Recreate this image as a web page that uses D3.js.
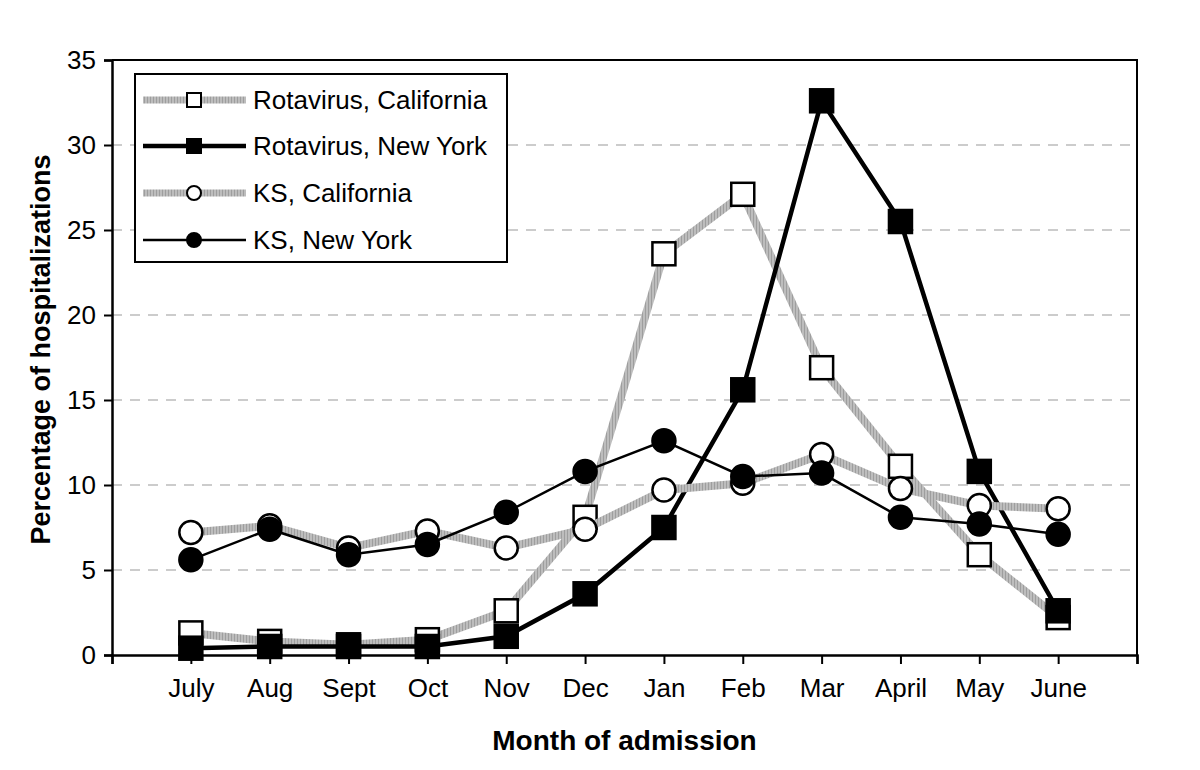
<!DOCTYPE html>
<html><head><meta charset="utf-8">
<script src="https://cdn.jsdelivr.net/npm/d3@7"></script>
<style>body{margin:0;background:#fff}svg{display:block}text{font-family:"Liberation Sans",Arial,sans-serif}</style>
</head><body><svg id="c" width="1200" height="770"></svg>
<script>
const months = ["July","Aug","Sept","Oct","Nov","Dec","Jan","Feb","Mar","April","May","June"];
const yTicks = [0,5,10,15,20,25,30,35];
const rotaCA = [1.3,0.8,0.6,0.9,2.6,8.1,23.6,27.1,16.9,11.1,5.9,2.2];
const rotaNY = [0.4,0.5,0.5,0.5,1.1,3.6,7.5,15.6,32.6,25.5,10.8,2.6];
const ksCA   = [7.2,7.6,6.3,7.3,6.3,7.4,9.7,10.1,11.8,9.8,8.8,8.6];
const ksNY   = [5.6,7.4,5.9,6.5,8.4,10.8,12.6,10.5,10.7,8.1,7.7,7.1];
const seriesNames = ["Rotavirus, California","Rotavirus, New York","KS, California","KS, New York"];

const svg = d3.select("#c");
const L=112,R=1137,T=60,B=655;
const x = d3.scaleLinear().domain([0,13]).range([L,R]);
const y = d3.scaleLinear().domain([0,35]).range([B,T]);

// hatched gray texture
const pat = svg.append("defs").append("pattern").attr("id","hatch")
  .attr("patternUnits","userSpaceOnUse").attr("width",3).attr("height",3);
pat.append("rect").attr("width",3).attr("height",3).attr("fill","#bdbdbd");
pat.append("rect").attr("width",1).attr("height",3).attr("fill","#9e9e9e");

const series = [
  {name:seriesNames[0], data:rotaCA, line:"url(#hatch)", lw:8, marker:"square", fill:"#fff"},
  {name:seriesNames[1], data:rotaNY, line:"#000", lw:4.5, marker:"square", fill:"#000"},
  {name:seriesNames[2], data:ksCA, line:"url(#hatch)", lw:8, marker:"circle", fill:"#fff"},
  {name:seriesNames[3], data:ksNY, line:"#000", lw:2.5, marker:"circle", fill:"#000"}
];

// gridlines
svg.append("g").selectAll("line").data(yTicks.filter(d=>d>0&&d<35)).join("line")
  .attr("x1",L).attr("x2",R).attr("y1",d=>y(d)).attr("y2",d=>y(d))
  .attr("stroke","#999").attr("stroke-width",1.2).attr("stroke-dasharray","10,8");

// frame top/right
svg.append("path").attr("d",`M${L},${T}H${R}V${B}`).attr("fill","none").attr("stroke","#000").attr("stroke-width",2);

// y axis
const ya = svg.append("g").attr("transform",`translate(${L},0)`)
  .call(d3.axisLeft(y).tickValues(yTicks).tickSize(8).tickPadding(8).tickFormat(d3.format("d")));
ya.select(".domain").attr("stroke-width",2.5);
ya.selectAll(".tick line").attr("stroke-width",2);
ya.selectAll("text").attr("font-size",26).attr("font-family","Liberation Sans, Arial, sans-serif").attr("fill","#000");

// x axis
const xa = svg.append("g").attr("transform",`translate(0,${B})`)
  .call(d3.axisBottom(x).tickValues(d3.range(0,14)).tickSize(9).tickPadding(15).tickFormat(d=> (d>=1&&d<=12)?months[d-1]:""));
xa.select(".domain").attr("stroke-width",2.5);
xa.selectAll(".tick line").attr("stroke-width",2);
xa.selectAll("text").attr("font-size",26).attr("font-family","Liberation Sans, Arial, sans-serif").attr("fill","#000");

// axis titles
svg.append("text").attr("x",(L+R)/2).attr("y",750).attr("text-anchor","middle")
  .attr("font-size",28).attr("font-weight","bold").text("Month of admission");
svg.append("text").attr("transform",`translate(50,${(T+B)/2-8}) rotate(-90)`).attr("text-anchor","middle")
  .attr("font-size",27).attr("font-weight","bold").text("Percentage of hospitalizations");

function drawMarker(g, s, cx, cy){
  if(s.marker==="square"){
    g.append("rect").attr("x",cx-11.5).attr("y",cy-11.5).attr("width",23).attr("height",23)
      .attr("fill",s.fill).attr("stroke","#000").attr("stroke-width",2.5);
  } else {
    g.append("circle").attr("cx",cx).attr("cy",cy).attr("r",11.5)
      .attr("fill",s.fill).attr("stroke","#000").attr("stroke-width",2.5);
  }
}

const line = d3.line().x((d,i)=>x(i+1)).y(d=>y(d));
series.forEach(s=>{
  const g = svg.append("g");
  g.append("path").attr("d",line(s.data)).attr("fill","none").attr("stroke",s.line)
    .attr("stroke-width",s.lw).attr("stroke-linejoin","miter");
  s.data.forEach((v,i)=>drawMarker(g,s,x(i+1),y(v)));
});

// legend
const lg = svg.append("g");
lg.append("rect").attr("x",135).attr("y",74).attr("width",372).attr("height",188)
  .attr("fill","#fff").attr("stroke","#000").attr("stroke-width",2);
const ly = [100,146,193,240];
series.forEach((s,i)=>{
  lg.append("line").attr("x1",143).attr("x2",246).attr("y1",ly[i]).attr("y2",ly[i])
    .attr("stroke",s.line).attr("stroke-width",s.lw===8?7:s.lw);
  const gm = lg.append("g");
  if(s.marker==="square"){
    gm.append("rect").attr("x",194-7).attr("y",ly[i]-7).attr("width",14).attr("height",14)
      .attr("fill",s.fill).attr("stroke","#000").attr("stroke-width",2);
  } else {
    gm.append("circle").attr("cx",194).attr("cy",ly[i]).attr("r",7)
      .attr("fill",s.fill).attr("stroke","#000").attr("stroke-width",2);
  }
  lg.append("text").attr("x",253).attr("y",ly[i]+9).attr("font-size",26).text(s.name);
});
</script></body></html>
